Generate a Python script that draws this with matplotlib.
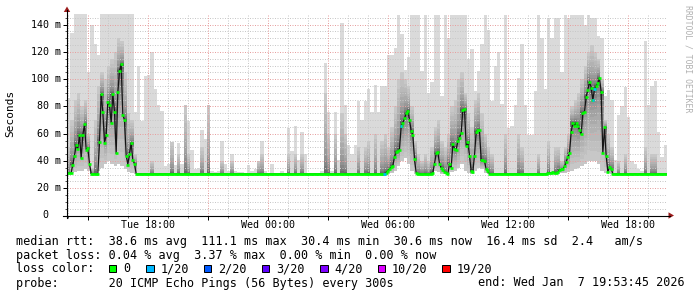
import numpy as np
import matplotlib
matplotlib.use("Agg")
import matplotlib.pyplot as plt
from matplotlib.lines import Line2D
from matplotlib.patches import Polygon, Rectangle
from matplotlib.transforms import blended_transform_factory

W, H, DPI = 697, 297, 100
MONO = "DejaVu Sans Mono"

# time in hours since Tue 00:00
T_START = 13.93
T_END = 43.93
MED_STEP = 5 / 60
SMOKE_STEP = 10 / 60
Y_TOP = 148

# median rtt (ms), one value per 5 minutes
median_ms = [
    31.2, 31.2, 31.5, 37.4, 44, 52, 48.6, 59, 42, 59, 67, 48.4,
    49.6, 38, 30.7, 30.7, 30.7, 30.7, 30.8, 54, 89, 76, 53, 59,
    83.5, 81, 68, 89, 76, 45.5, 90.4, 106, 111, 73.7, 70, 44,
    37.4, 45, 53, 40.5, 38, 30.6, 30.5, 30.5, 30.6, 30.5, 30.5, 30.5,
    30.5, 30.5, 30.5, 30.6, 30.5, 30.5, 30.5, 30.5, 30.6, 30.5, 30.5, 30.5,
    30.5, 30.5, 30.5, 30.5, 30.5, 30.6, 30.5, 30.5, 30.5, 30.5, 30.5, 30.5,
    30.5, 30.5, 30.6, 30.5, 30.5, 30.5, 30.5, 30.5, 30.5, 30.5, 30.6, 30.5,
    30.5, 30.5, 30.5, 30.5, 30.5, 30.5, 30.5, 30.5, 30.5, 30.5, 30.5, 30.5,
    30.5, 30.5, 30.5, 30.6, 30.5, 30.5, 30.5, 30.5, 30.5, 30.5, 30.5, 30.5,
    30.5, 30.5, 30.5, 30.5, 30.5, 30.5, 30.6, 30.5, 30.5, 30.5, 30.5, 30.5,
    30.5, 30.5, 30.5, 30.5, 30.5, 30.5, 30.5, 30.5, 30.5, 30.5, 30.5, 30.5,
    30.5, 30.5, 30.5, 30.5, 30.5, 30.5, 30.5, 30.5, 30.5, 30.5, 30.5, 30.5,
    30.5, 30.5, 30.5, 30.5, 30.5, 30.5, 30.5, 30.5, 30.5, 30.5, 30.5, 30.5,
    30.5, 30.5, 30.5, 30.5, 30.5, 30.5, 30.5, 30.5, 30.5, 30.5, 30.5, 30.5,
    30.5, 30.5, 30.5, 30.5, 30.5, 30.5, 30.5, 30.5, 30.5, 30.5, 30.5, 30.5,
    30.5, 30.5, 30.5, 30.5, 30.5, 30.5, 30.5, 30.5, 30.5, 30.5, 30.4, 31.5,
    33, 34, 35.5, 36.5, 43, 46.7, 47.5, 48.4, 65.6, 68, 71.2, 75,
    76.9, 70, 62, 59, 41.3, 31.5, 30.6, 30.6, 30.6, 30.6, 30.6, 30.6,
    30.6, 30.6, 30.6, 31.5, 38, 45.5, 46.4, 38, 35, 33.7, 32, 31.5,
    30.6, 38, 35, 52.3, 49, 48, 54.5, 57, 60.6, 77.4, 78, 51,
    54, 44, 32.4, 32, 44, 61.4, 62.6, 62.6, 40.5, 40.5, 40, 33.9,
    32.4, 30.6, 30.5, 30.5, 30.5, 30.5, 30.5, 30.5, 30.5, 30.5, 30.5, 30.5,
    30.5, 30.5, 30.5, 30.5, 30.5, 30.5, 30.5, 30.5, 30.5, 30.5, 30.5, 30.5,
    30.5, 30.5, 30.5, 30.5, 30.5, 30.5, 30.5, 30.5, 30.5, 30.5, 30.5, 30.5,
    31.2, 31.5, 31, 31.8, 31.5, 31.2, 32, 33.5, 33.9, 33.9, 36, 39.3,
    43, 45.5, 61.4, 68, 65.8, 68, 66, 62.6, 59.5, 75.4, 76.1, 87,
    92, 98.2, 93.8, 84.7, 92.8, 95, 97, 101, 90.4, 45.5, 64.6, 43.7,
    31.9, 35.6, 34.4, 30.5, 30.5, 30.5, 30.5, 30.5, 30.5, 30.5, 30.5, 30.5,
    30.5, 30.5, 30.5, 30.5, 30.5, 30.5, 30.5, 30.5, 30.5, 30.5, 30.5, 30.5,
    30.5, 30.5, 30.5, 30.5, 30.5, 30.5, 30.5, 30.5, 30.5, 30.5, 30.5, 30.5,
]
# 5-minute samples that lost 1 of 20 pings
loss_1_of_20 = [190, 200, 315, 316]

# smoke, one value per 10 minutes: lowest ping, inner spread top, highest ping
ping_min = [
    30.2, 31, 32, 33, 33, 34, 33, 30.2, 30.2, 33, 35, 38, 40, 38, 36, 38, 36, 34, 32, 31, 30.2,
    30.2, 30.2, 30.2, 30.2, 30.2, 30.2, 30.2, 30.2, 30.2, 30.2, 30.2, 30.2, 30.2, 30.2, 30.2,
    30.2, 30.2, 30.2, 30.2, 30.2, 30.2, 30.2, 30.2, 30.2, 30.2, 30.2, 30.2, 30.2, 30.2, 30.2,
    30.2, 30.2, 30.2, 30.2, 30.2, 30.2, 30.2, 30.2, 30.2, 30.2, 30.2, 30.2, 30.2, 30.2, 30.2,
    30.2, 30.2, 30.2, 30.2, 30.2, 30.2, 30.2, 30.2, 30.2, 30.2, 30.2, 30.2, 30.2, 30.2, 30.2,
    30.2, 30.2, 30.2, 30.2, 30.2, 30.2, 30.2, 30.2, 30.2, 30.2, 30.2, 30.2, 30.2, 30.2, 30.2,
    30.2, 31, 33, 36, 40, 42, 38, 33, 30.2, 30.2, 30.2, 30.2, 30.2, 30.2, 33, 32,
    30.2, 30.2, 30.2, 32, 33, 35, 38, 33, 31, 30.2, 33, 35, 34, 31, 30.2, 30.2,
    30.2, 30.2, 30.2, 30.2, 30.2, 30.2, 30.2, 30.2, 30.2, 30.2,
    30.2, 30.2, 30.2, 30.2, 30.2, 30.2, 30.2, 30.2, 30.2, 30.2,
    31, 31, 32, 33, 34, 35, 36, 38, 40, 40, 40, 38, 33, 31, 31, 30.2,
    30.2, 30.2, 30.2, 30.2, 30.2, 30.2, 30.2, 30.2, 30.2, 30.2, 30.2, 30.2, 30.2, 30.2, 30.2, 30.2,
]
ping_mid = [
    50, 70, 85, 90, 80, 85, 60, 35, 70, 95, 105, 100, 110, 115, 120, 130, 128, 105, 75, 70, 45,
    31, 31, 31, 31, 40, 31, 31, 31, 31, 31, 54, 31, 45, 31, 81, 45, 31, 31, 31, 50,
    31, 81, 31, 31, 31, 40, 31, 31, 40, 31, 31, 31, 31, 31, 31, 31, 40, 45, 31, 31,
    31, 31, 31, 31, 31, 45, 31, 45, 31, 45, 31, 31, 31, 31, 31, 31, 90, 60, 31, 60,
    31, 75, 60, 31, 31, 31, 50, 31, 50, 55, 31, 60, 31, 55, 60,
    50, 65, 80, 100, 105, 100, 95, 80, 55, 45, 40, 45, 40, 50, 65, 70,
    55, 50, 60, 80, 85, 100, 105, 90, 75, 65, 85, 90, 75, 60, 50, 45,
    31, 31, 31, 60, 31, 31, 31, 60, 50, 31, 31, 31, 31, 45, 31, 31, 55, 31, 50, 50,
    40, 50, 60, 80, 85, 90, 100, 110, 120, 125, 120, 115, 100, 70, 60, 50,
    31, 40, 31, 45, 31, 31, 31, 31, 31, 50, 31, 45, 45, 31, 31, 31,
]
ping_max = [
    86, 134, 148, 148, 148, 148, 105, 140, 126, 118, 148, 148, 148, 148, 148, 148, 148, 148, 148, 148, 76,
    110, 69, 102, 103, 120, 93, 81, 77, 36, 38, 54, 37, 53, 38, 81, 69, 48, 34, 35, 62.6,
    56, 81, 33, 32, 32.5, 55, 38, 33, 45, 33, 32, 32, 31.5, 37, 33, 34, 40, 55, 33, 31.5,
    38, 31.5, 31, 33, 31.5, 64, 47, 66, 41, 61, 45, 31.5, 31, 31.5, 31, 33, 112, 76, 33, 76,
    41, 141, 81, 52, 45, 52, 84, 70, 84, 93, 76, 96, 76, 95, 95, 118, 118, 123, 147, 133,
    107, 116, 147, 147, 147, 106, 147, 90, 98, 147, 147, 88, 147, 130, 147, 147, 147, 147, 147, 115,
    122, 91, 106, 126, 147, 136, 84, 110, 120, 82, 147, 64, 66, 81, 101, 126, 81, 59, 59, 91,
    147, 130, 93, 145, 130, 145, 145, 105, 147, 145, 147, 147, 147, 147, 140, 147, 145, 145, 132, 130,
    88, 92, 85, 41, 74, 80, 94, 72, 40, 38, 34, 33, 128, 81, 95, 99, 61, 43, 52,
]

y_ticks = [0, 20, 40, 60, 80, 100, 120, 140]
y_tick_labels = ["0", "20 m", "40 m", "60 m", "80 m", "100 m", "120 m", "140 m"]
x_ticks = [18, 24, 30, 36, 42]
x_tick_labels = ["Tue 18:00", "Wed 00:00", "Wed 06:00", "Wed 12:00", "Wed 18:00"]

legend_rows = [
    "median rtt:  38.6 ms avg  111.1 ms max  30.4 ms min  30.6 ms now  16.4 ms sd  2.4   am/s",
    "packet loss: 0.04 % avg  3.37 % max  0.00 % min  0.00 % now",
]
loss_names = ["0", "1/20", "2/20", "3/20", "4/20", "10/20", "19/20"]
loss_colors = ["#00ff00", "#00b8ff", "#0059ff", "#5e00ff", "#7e00ff", "#dd00ff", "#ff0000"]
loss_box_x = [108.5, 146, 203.5, 261.5, 320, 377.5, 442]
probe_text = "probe:       20 ICMP Echo Pings (56 Bytes) every 300s"
end_text = "end: Wed Jan  7 19:53:45 2026"

# ---- layout (pixels, y measured from top) ----
L, R, B = 67, 667, 215.5
PX_PER_MS = 27.27 / 20
TOP = B - Y_TOP * PX_PER_MS


def fpx(x, y):
    return x / W, 1 - y / H


fig = plt.figure(figsize=(W / DPI, H / DPI), dpi=DPI, facecolor="white")
ax = fig.add_axes([L / W, 1 - B / H, (R - L) / W, (B - TOP) / H])
ax.set_xlim(T_START, T_END)
ax.set_ylim(0, Y_TOP)
for s in ax.spines.values():
    s.set_visible(False)

# ---- smoke ----
med = np.array(median_ms)
t_med = T_START + np.arange(len(med)) * MED_STEP
t_smoke = T_START + np.arange(len(ping_max) + 1) * SMOKE_STEP


def edge(v):
    v = np.asarray(v, dtype=float)
    return np.append(v, v[-1])


lo = np.array(ping_min)
mid = np.array(ping_mid)
hi = np.array(ping_max)
med10 = np.maximum(med[0::2], med[1::2])

ax.fill_between(t_smoke, edge(lo), edge(np.minimum(hi, Y_TOP)), step="post",
                color="#dadada", lw=0, zorder=1)
n_layers = 12
for k in range(n_layers, 0, -1):
    f = k / n_layers
    ext = f ** 1.7
    up = med10 + (mid - med10) * ext
    dn = med10 - (med10 - lo) * ext
    g = 0.17 + 0.61 * f ** 0.5
    ax.fill_between(t_smoke, edge(dn), edge(up), step="post",
                    color=(g, g, g), lw=0, zorder=2)

# ---- grid ----
dots = (0, (1, 1.5))
for v in range(5, Y_TOP, 5):
    if v % 20:
        ax.axhline(v, color="#c8c8c8", lw=0.72, ls=dots, zorder=4)
for v in range(20, Y_TOP, 20):
    ax.axhline(v, color="#e6a0a0", lw=0.72, ls=dots, zorder=4)
for h in range(14, 44):
    col = "#e6a0a0" if h % 3 == 0 else "#c8c8c8"
    ax.axvline(h, color=col, lw=0.72, ls=dots, zorder=4)

# ---- median ----
ax.plot(t_med + MED_STEP / 2, med, color="#141414", lw=0.9, zorder=6)
ax.hlines(med, t_med - 0.35 * MED_STEP, t_med + 1.35 * MED_STEP,
          colors=loss_colors[0], lw=1.9, zorder=7)
lost = np.array(loss_1_of_20)
ax.hlines(med[lost], t_med[lost] - 0.2 * MED_STEP, t_med[lost] + 1.2 * MED_STEP,
          colors=loss_colors[1], lw=1.9, zorder=8)

# ---- ticks ----
ax.set_xticks(np.arange(15, 44, 3))
ax.set_xticks(np.arange(14, 44, 1), minor=True)
ax.set_yticks(y_ticks)
ax.set_yticks(np.arange(0, Y_TOP, 5), minor=True)
ax.set_xticklabels([])
ax.set_yticklabels([])
ax.tick_params(axis="both", which="major", length=3, width=0.72, color="black", direction="out")
ax.tick_params(axis="both", which="minor", length=1.5, width=0.72, color="#555555", direction="out")

yx = blended_transform_factory(fig.transFigure, ax.transData)
for v, lab in zip(y_ticks, y_tick_labels):
    xr = 60.5 if lab != "0" else 48.5
    ax.text(xr / W, v, lab, transform=yx, ha="right", va="center",
            fontsize=7.2, family=MONO, color="black")
xy = blended_transform_factory(ax.transData, fig.transFigure)
for v, lab in zip(x_ticks, x_tick_labels):
    ax.text(v, 1 - 224.5 / H, lab, transform=xy, ha="center", va="center",
            fontsize=7.2, family=MONO, color="black")

# ---- axes lines with arrows ----
fig.add_artist(Line2D([L / W, L / W], [1 - 218 / H, 1 - 10 / H], color="black", lw=0.8))
fig.add_artist(Line2D([63 / W, 670 / W], [1 - B / H, 1 - B / H], color="black", lw=0.8))
arrow_col = "#9b1b1b"
fig.add_artist(Polygon([fpx(L, 6.5), fpx(L - 3.2, 12), fpx(L + 3.2, 12)],
                       closed=True, color=arrow_col, lw=0))
fig.add_artist(Polygon([fpx(674, B), fpx(668.5, B - 3.2), fpx(668.5, B + 3.2)],
                       closed=True, color=arrow_col, lw=0))

# ---- labels ----
fig.text(*fpx(10, 113.5), "Seconds", rotation=90, ha="center", va="center",
         fontsize=8, family=MONO, color="black")
fig.text(*fpx(688, 59), "RRDTOOL / TOBI OETIKER", rotation=270, ha="center", va="center",
         fontsize=5.9, family=MONO, color="#b0b0b0")

LEG_FS = 8.5
fig.text(*fpx(16, 241), legend_rows[0], ha="left", va="center", fontsize=LEG_FS, family=MONO)
fig.text(*fpx(16, 255), legend_rows[1], ha="left", va="center", fontsize=LEG_FS, family=MONO)
fig.text(*fpx(16, 268.5), "loss color:", ha="left", va="center", fontsize=LEG_FS, family=MONO)
for name, col, bx in zip(loss_names, loss_colors, loss_box_x):
    x0, y0 = fpx(bx, 272)
    fig.add_artist(Rectangle((x0, y0), 7.5 / W, 7.5 / H, facecolor=col,
                             edgecolor="black", lw=0.72, transform=fig.transFigure))
    fig.text(*fpx(bx + 14.5, 268.5), name, ha="left", va="center", fontsize=LEG_FS, family=MONO)
fig.text(*fpx(16, 283), probe_text, ha="left", va="center", fontsize=LEG_FS, family=MONO)
fig.text(*fpx(478.5, 283), end_text, ha="left", va="center", fontsize=LEG_FS, family=MONO)

fig.savefig("out.png", dpi=DPI, facecolor="white")
